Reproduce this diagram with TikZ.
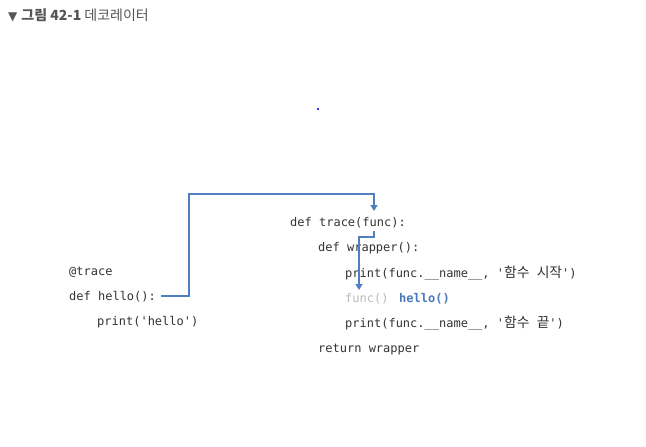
\documentclass[tikz,border=0pt]{standalone}
\usepackage{fontspec}
\setmainfont{Noto Sans CJK KR}
\setmonofont{DejaVu Sans Mono}
\newfontfamily\kr[Scale=1.15]{Noto Sans CJK KR}
\newfontfamily\symfont{DejaVu Sans}
\usetikzlibrary{arrows.meta}
\definecolor{codetxt}{HTML}{333333}
\definecolor{titlegray}{HTML}{555555}
\definecolor{linkblue}{HTML}{4F7FC0}
\definecolor{hellblue}{HTML}{4A78BD}
\definecolor{fadedgray}{HTML}{BBBBBB}
\definecolor{dotblue}{HTML}{2B3FE0}
\begin{document}
\begin{tikzpicture}[x=1pt,y=-1pt,
  code/.style={anchor=base west,inner sep=0pt,font=\ttfamily\fontsize{12}{14}\selectfont,text=codetxt},
  link/.style={draw=linkblue,line width=1.8pt,-{Triangle[length=6pt,width=7pt]}}]
\useasboundingbox[fill=white] (0,0) rectangle (646,447);
% title
\node[anchor=base west,inner sep=0pt,font=\fontsize{14}{16}\selectfont,text=titlegray] (title) at (8,20)
  {{\symfont\fontsize{12}{14}\selectfont ▼}\hspace{4pt}\textbf{그림 42-1} 데코레이터};
% tiny dot
\fill[dotblue] (317,108) rectangle (319,110) ;
% left code
\node[code] (attr) at (69,275) {@trace};
\node[code] (defhello) at (69,300) {def hello():};
\node[code] (printhello) at (97,325) {print('hello')};
% right code
\node[code] (deftrace) at (290,226) {def trace(func):};
\node[code] (defwrapper) at (318,251) {def wrapper():};
\node[code] (printstart) at (345,277) {print(func.\_\_name\_\_, '{\kr 함수} {\kr 시작}')};
\node[code,text=fadedgray] (funccall) at (345,302) {func()};
\node[code,text=hellblue,font=\ttfamily\bfseries\fontsize{12}{14}\selectfont] (hellocall) at (399,302) {hello()};
\node[code] (printend) at (345,327) {print(func.\_\_name\_\_, '{\kr 함수} {\kr 끝}')};
\node[code] (retwrapper) at (318,352) {return wrapper};
% connectors
\coordinate (k1) at (189,194);
\coordinate (t1) at (374,211);
\draw[link] ([xshift=5pt]defhello.east) -| (k1) -| (t1);
\coordinate (s2) at (374,231);
\coordinate (k2) at (374,237);
\coordinate (t2) at (359,290);
\draw[link] (s2) -- (k2) -| (t2);
\end{tikzpicture}
\end{document}
